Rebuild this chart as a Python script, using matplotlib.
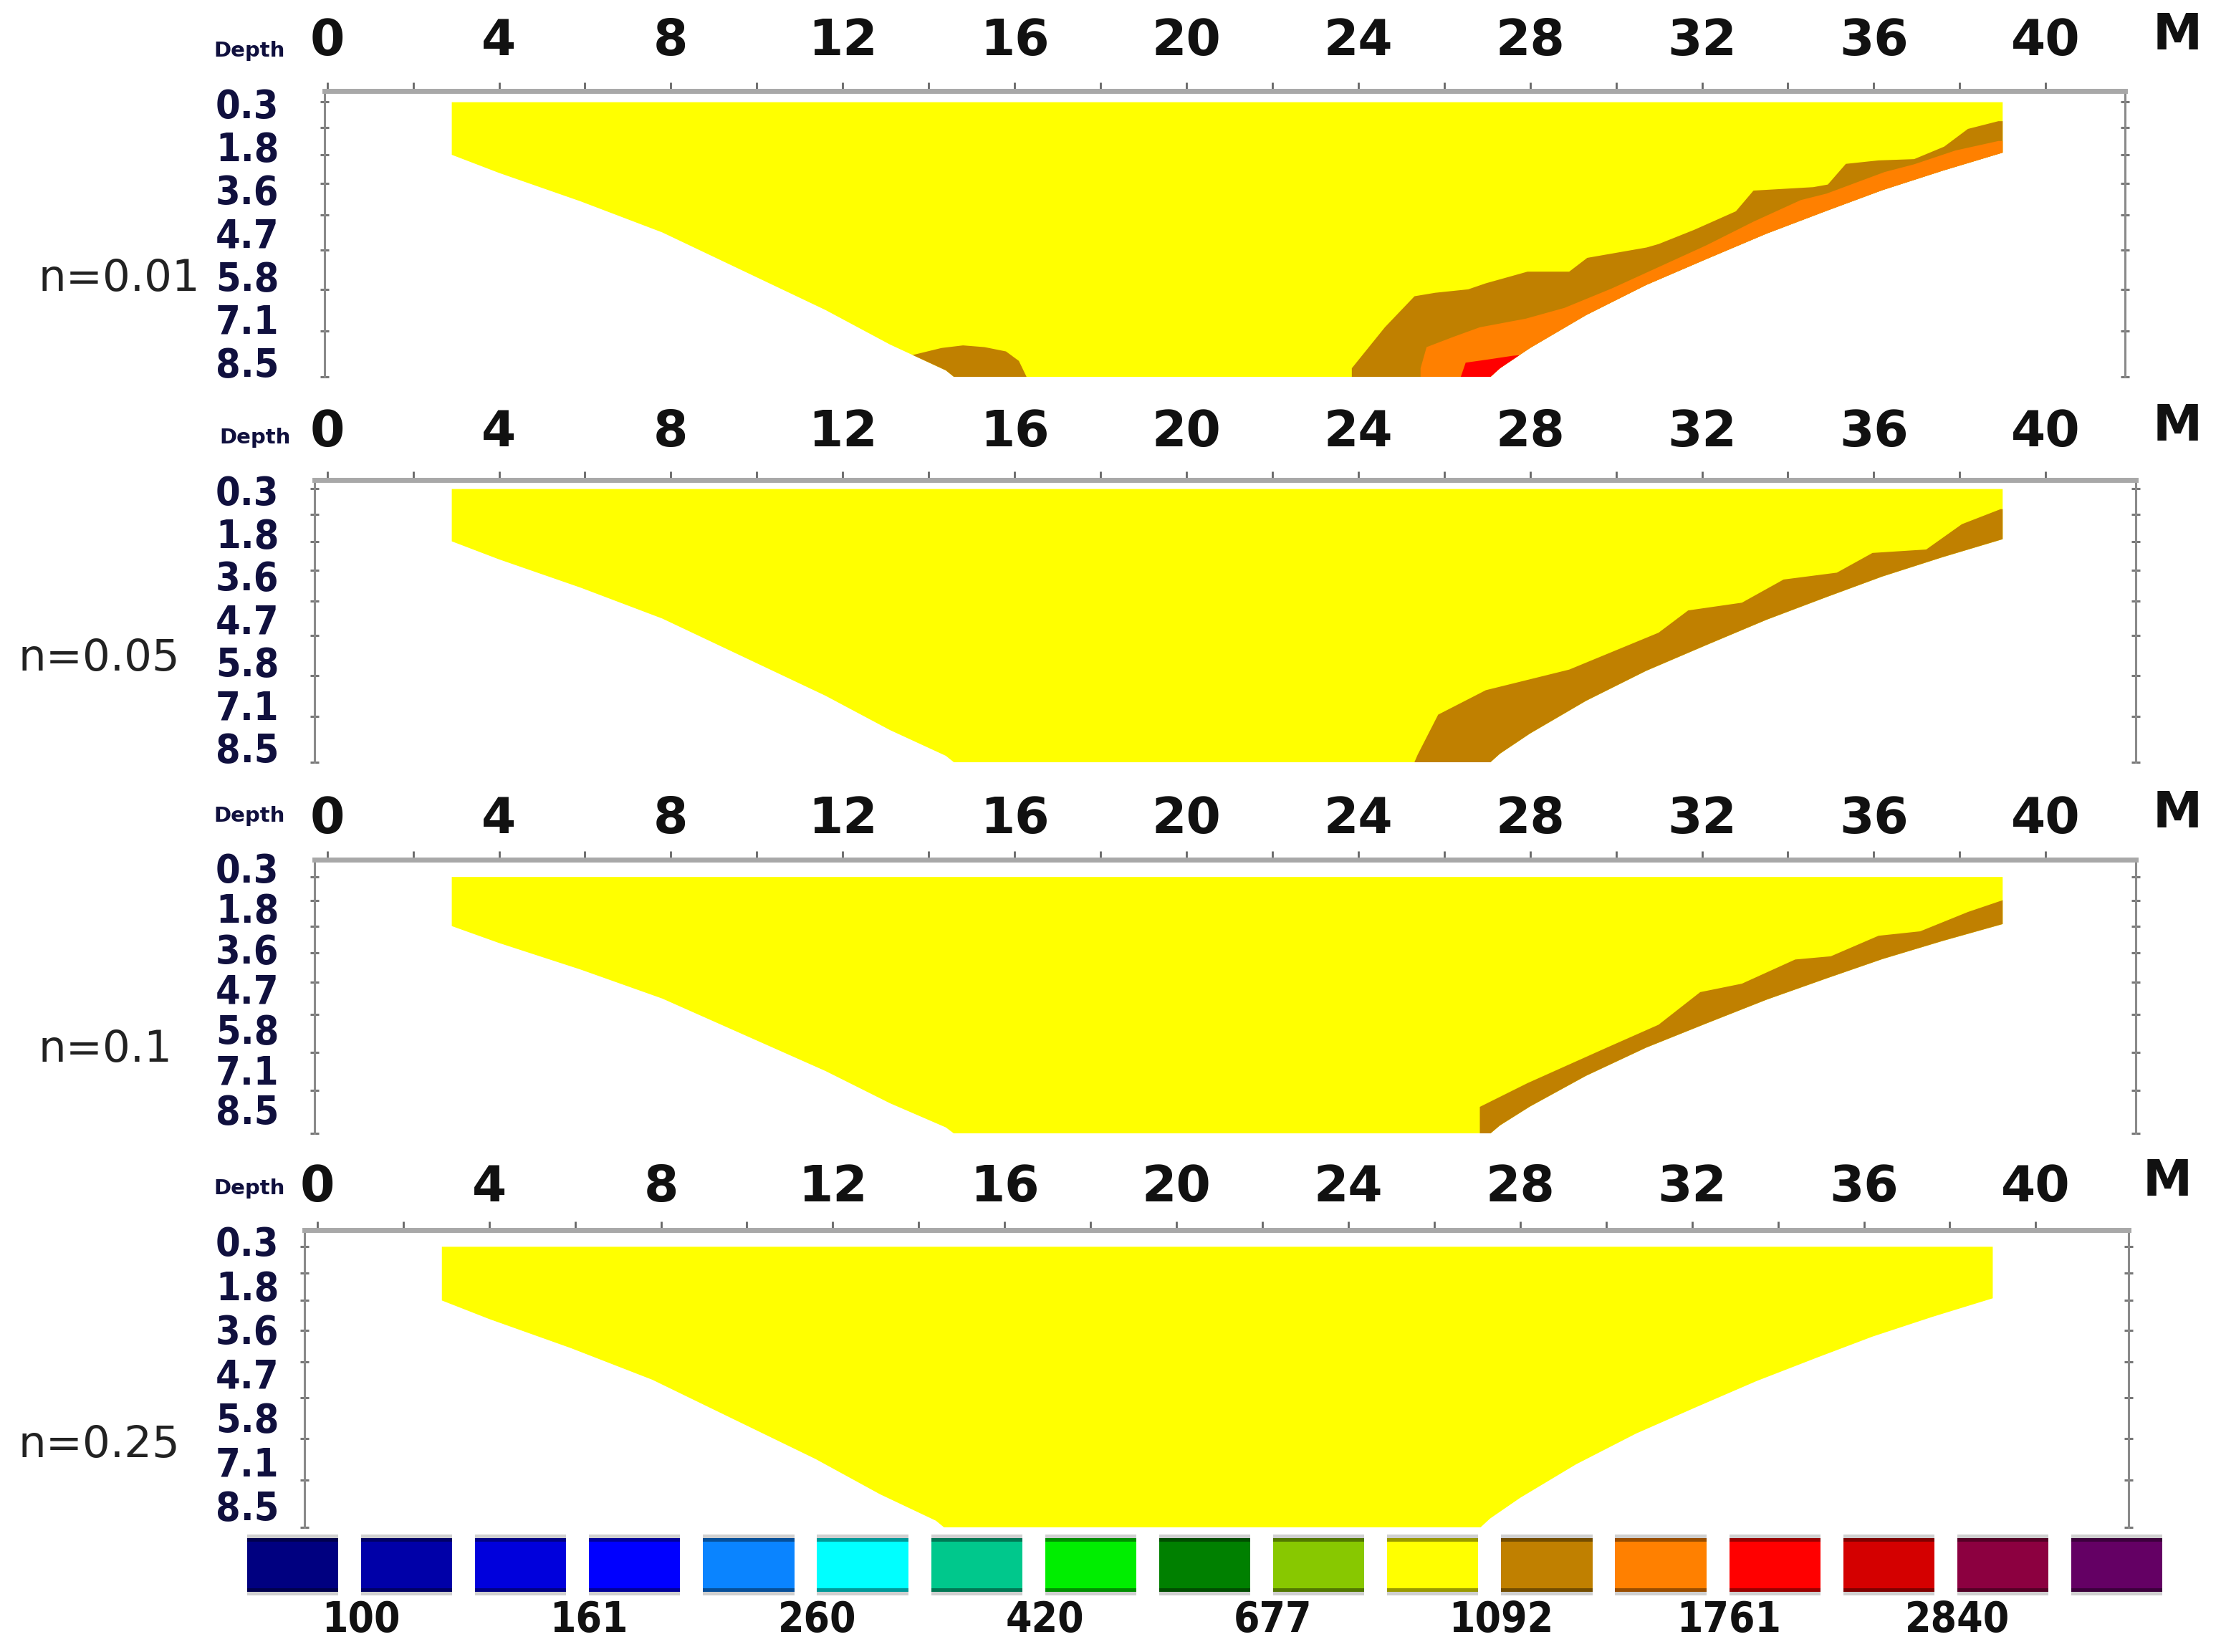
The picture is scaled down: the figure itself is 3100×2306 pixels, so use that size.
import matplotlib
matplotlib.use('Agg')
import matplotlib.pyplot as plt
from matplotlib import font_manager
from matplotlib.colors import to_rgb

# ---- data --------------------------------------------------------------
xTicks = list(range(0, 41, 4))
xMinor = list(range(2, 41, 4))
depthLabels = ['0.3', '1.8', '3.6', '4.7', '5.8', '7.1', '8.5']
depthMinor = [-0.03, 0.57, 1.2, 1.87, 2.6, 3.4, 4.33, 5.28, 6.35]   # depth level
panelNames = ['n=0.01', 'n=0.05', 'n=0.1', 'n=0.25']

# outline of the pseudo-section: x (m) vs depth level (0 -> 0.3 m, 6 -> 8.5 m)
leftX = [2.9, 2.9, 4.0, 5.9, 7.8, 9.7, 11.6, 13.1, 14.4, 14.9]
leftY = [-0.02, 1.2, 1.62, 2.28, 3.0, 3.9, 4.8, 5.6, 6.2, 6.6]
rightX = [39.0, 39.0, 37.6, 36.2, 34.9, 33.5, 32.1, 30.7, 29.3, 28.0, 27.3, 26.8]
rightY = [-0.02, 1.15, 1.57, 2.02, 2.5, 3.03, 3.62, 4.22, 4.92, 5.68, 6.15, 6.6]

# n=0.01 anomalies
brown1X = [23.85, 24.62, 25.31, 25.79, 26.56, 26.97, 27.94, 28.91, 29.33, 30.71, 30.99,
           31.82, 32.79, 33.20, 34.59, 34.93, 35.35, 36.11, 36.94, 37.64, 38.19, 38.9]
brown1Y = [6.15, 5.20, 4.48, 4.40, 4.32, 4.18, 3.91, 3.91, 3.59, 3.35, 3.27,
           2.94, 2.51, 2.03, 1.95, 1.89, 1.41, 1.33, 1.30, 1.01, 0.60, 0.42]
orange1X = [25.45, 25.45, 25.59, 26.22, 26.83, 27.9, 28.8, 29.9, 31.0, 32.1, 33.2,
            34.3, 34.9, 36.25, 36.94, 37.9, 38.9]
orange1Y = [6.6, 6.15, 5.66, 5.42, 5.20, 5.0, 4.75, 4.3, 3.8, 3.3, 2.75,
            2.25, 2.1, 1.6, 1.42, 1.1, 0.88]
red1X = [26.3, 26.5, 27.0, 27.6, 28.4]
red1Y = [6.6, 6.02, 5.95, 5.86, 5.8]
blob1X = [13.3, 13.6, 14.3, 14.8, 15.3, 15.8, 16.1, 16.4]
blob1Y = [6.6, 5.85, 5.68, 5.62, 5.66, 5.76, 5.98, 6.6]

# n=0.05
brown2X = [25.2, 25.38, 25.86, 26.97, 28.91, 30.99, 31.68, 32.93, 33.90, 35.14, 35.97,
           37.22, 38.05, 38.95]
brown2Y = [6.6, 6.18, 5.24, 4.67, 4.19, 3.33, 2.81, 2.63, 2.09, 1.93, 1.47,
           1.39, 0.80, 0.45]

# n=0.1
brown3X = [26.83, 27.94, 29.74, 30.99, 31.96, 32.93, 34.17, 35.00, 36.11, 37.08, 38.19, 39.02]
brown3Y = [5.69, 5.10, 4.24, 3.65, 2.84, 2.63, 2.03, 1.95, 1.44, 1.33, 0.85, 0.55]

scaleColors = ['#000080', '#0000A8', '#0000DC', '#0000FF', '#0A84FF', '#00FFFF',
               '#00C88C', '#00EE00', '#008000', '#88C800', '#FFFF00', '#C08000',
               '#FF8000', '#FF0000', '#D40000', '#8C0040', '#640064']
scaleLabels = ['100', '161', '260', '420', '677', '1092', '1761', '2840']
scalePos = [1, 3, 5, 7, 9, 11, 13, 15]

YELLOW = '#FFFF00'
BROWN = '#C08000'
ORANGE = '#FF8000'
RED = '#FF0000'

# ---- layout (reference pixels of the 1568x1166 view) ----------------------
W, H = 1568.0, 1166.0
PXM = 30.33   # px per metre
PXL = 31.33   # px per depth level
boxes = [(229, 1500, 64, 266), (222, 1508, 339, 538), (222, 1508, 607, 800), (215, 1503, 868, 1078)]
x0s = [231, 231, 231, 224]
y03s = [73, 346, 613, 876]
offs = [0.0, 0.0, 0.25, 0.15]
topGap = [39, 38, 33, 34]
depthPos = [(176, 36), (180, 309), (176, 576), (176, 839)]
mPos = [(1537, 25), (1537, 301), (1537, 574), (1530, 834)]
namePos = [(27, 197), (13, 465), (27, 741), (13, 1020)]

NAVY = '#10103e'

fonts = font_manager.fontManager.ttflist
hasCond = any(f.name == 'DejaVu Sans' and f.stretch == 'condensed' for f in fonts)
stretch = 'condensed' if hasCond else 'normal'
depthSize = 40 if hasCond else 35
scaleSize = 42 if hasCond else 38


def closeRight(xs, ys):
    return xs + [46, 46, xs[0]], ys + [ys[-1], 7.5, 7.5]


def drawPanel(fig, k):
    left, right, top, bottom = boxes[k]
    x0, y03, off = x0s[k], y03s[k], offs[k]
    ax = fig.add_axes([left / W, 1 - bottom / H, (right - left) / W, (bottom - top) / H])
    ax.set_xlim((left - x0) / PXM, (right - x0) / PXM)
    ax.set_ylim((bottom - y03) / PXL - off, (top - y03) / PXL - off)

    secX = leftX + rightX[::-1]
    secY = leftY + rightY[::-1]
    sec = ax.fill(secX, secY, color=YELLOW, lw=0, zorder=1)[0]

    shapes = []
    if k == 0:
        shapes = [(closeRight(brown1X, brown1Y), BROWN),
                  (closeRight(orange1X, orange1Y), ORANGE),
                  (closeRight(red1X, red1Y), RED),
                  ((blob1X, blob1Y), BROWN)]
    elif k == 1:
        shapes = [(closeRight(brown2X, brown2Y), BROWN)]
    elif k == 2:
        shapes = [(closeRight(brown3X, brown3Y), BROWN)]
    for (xs, ys), c in shapes:
        p = ax.fill(xs, ys, color=c, lw=0, zorder=2)[0]
        p.set_clip_path(sec)

    ax.spines['bottom'].set_visible(False)
    ax.spines['top'].set_color('#a8a8a8')
    ax.spines['top'].set_linewidth(5)
    for s in ['left', 'right']:
        ax.spines[s].set_color('#8a8a8a')
        ax.spines[s].set_linewidth(2.2)

    ax.xaxis.tick_top()
    ax.set_xticks(xTicks)
    ax.set_xticklabels([str(v) for v in xTicks], fontsize=50, fontweight='bold', color='#111111')
    ax.set_xticks(xMinor, minor=True)
    padTop = (topGap[k] * 1.977 - 54) / 1.389
    ax.tick_params(axis='x', which='both', direction='out', length=9, width=2,
                   color='#666666', top=True, bottom=False, pad=padTop)

    ax.set_yticks([i - off for i in range(7)])
    ax.set_yticklabels(depthLabels, fontsize=depthSize, fontweight='bold', color=NAVY,
                       fontstretch=stretch)
    ax.set_yticks(depthMinor, minor=True)
    padLeft = (left - 197) * 1.977 / 1.389
    ax.tick_params(axis='y', which='major', length=0, pad=padLeft, left=True, right=False)
    ax.tick_params(axis='y', which='minor', direction='inout', length=9, width=2.2,
                   color='#777777', left=True, right=True)

    fig.text(depthPos[k][0] / W, 1 - depthPos[k][1] / H, 'Depth', fontsize=21,
             fontweight='bold', color=NAVY, ha='center', va='center')
    fig.text(mPos[k][0] / W, 1 - mPos[k][1] / H, 'M', fontsize=50,
             fontweight='bold', color='#111111', ha='center', va='center')
    fig.text(namePos[k][0] / W, 1 - namePos[k][1] / H, panelNames[k], fontsize=44,
             color='#222222', ha='left', va='center')
    return ax


def drawScale(fig):
    left, right, top, bottom = 174.3, 1526.7, 1083, 1126
    cax = fig.add_axes([left / W, 1 - bottom / H, (right - left) / W, (bottom - top) / H])
    cax.set_xlim(0, 16.8)
    cax.set_ylim(0, 1)
    for i, c in enumerate(scaleColors):
        dark = tuple(v * 0.6 for v in to_rgb(c))
        cax.bar(i, 1, width=0.8, align='edge', color='#cfcfcf', lw=0)
        cax.bar(i, 0.88, bottom=0.06, width=0.8, align='edge', color=c, lw=0)
        cax.bar(i, 0.06, bottom=0.06, width=0.8, align='edge', color=dark, lw=0)
        cax.bar(i, 0.06, bottom=0.88, width=0.8, align='edge', color=dark, lw=0)
    for x, t in zip(scalePos, scaleLabels):
        cax.text(x, -0.41, t, fontsize=scaleSize, fontweight='bold', fontstretch=stretch,
                 color='#111111', ha='center', va='center', clip_on=False)
    cax.axis('off')


def main():
    fig = plt.figure(figsize=(31, 23.06), dpi=100)
    for k in range(4):
        drawPanel(fig, k)
    drawScale(fig)
    fig.savefig('out.png', dpi=100)


if __name__ == '__main__':
    main()
